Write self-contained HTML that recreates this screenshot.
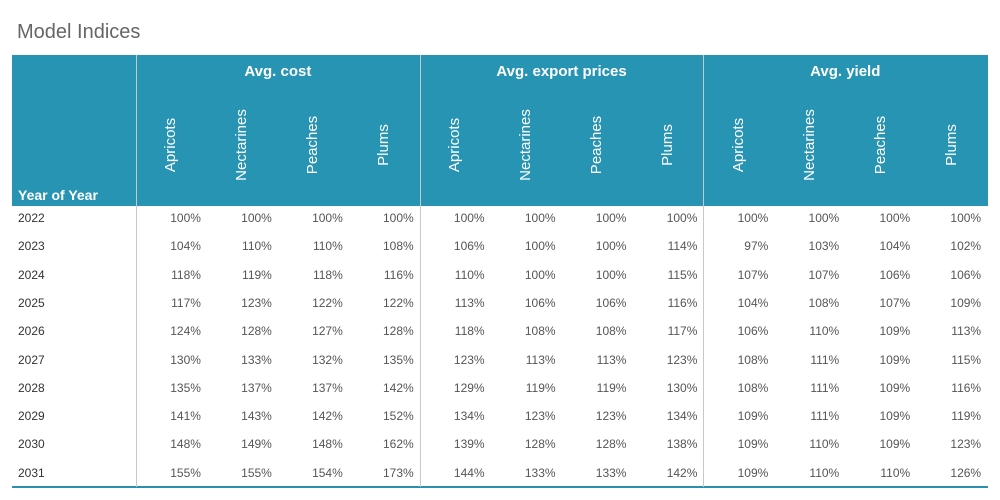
<!DOCTYPE html>
<html><head><meta charset="utf-8"><style>
body{margin:0;width:1000px;height:500px;background:#fff;font-family:"Liberation Sans",sans-serif;position:relative;overflow:hidden}
.a{position:absolute}
</style></head><body>
<div class="a" style="left:17px;top:21px;font-size:20px;color:#666">Model Indices</div>
<div class="a" style="left:12px;top:55px;width:976px;height:151px;background:#2794b3"></div>
<div class="a" style="left:18px;top:187px;font-size:14px;font-weight:bold;color:#fff">Year of Year</div>
<div class="a" style="left:12px;top:486px;width:976px;height:2px;background:#2b8fb0"></div>
<div id="t"></div>
<script>
const groups=["Avg. cost","Avg. export prices","Avg. yield"];
const fruits=["Apricots","Nectarines","Peaches","Plums"];
const years=["2022","2023","2024","2025","2026","2027","2028","2029","2030","2031"];
const cost=[[100,100,100,100],[104,110,110,108],[118,119,118,116],[117,123,122,122],[124,128,127,128],[130,133,132,135],[135,137,137,142],[141,143,142,152],[148,149,148,162],[155,155,154,173]];
const exportp=[[100,100,100,100],[106,100,100,114],[110,100,100,115],[113,106,106,116],[118,108,108,117],[123,113,113,123],[129,119,119,130],[134,123,123,134],[139,128,128,138],[144,133,133,142]];
const yieldv=[[100,100,100,100],[97,103,104,102],[107,107,106,106],[104,108,107,109],[106,110,109,113],[108,111,109,115],[108,111,109,116],[109,111,109,119],[109,110,109,123],[109,110,110,126]];
const data=[cost,exportp,yieldv];
const t=document.getElementById('t');
function el(s){const d=document.createElement('div');d.className='a';d.style.cssText=s;t.appendChild(d);return d;}
const g0=136,gw=283.7,cw=gw/4,r0=219,rh=28.3;
groups.forEach((g,gi)=>{
  const gx=g0+gi*gw;
  const s=el(`left:${gx}px;top:55px;width:1px;height:432px;background:#c8c8c8`);
  
  
  const h=el(`left:${gx}px;top:63px;width:${gw}px;text-align:center;font-size:15px;font-weight:bold;color:#fff`);
  h.textContent=g;
  
  
  fruits.forEach((f,fi)=>{
    const cx=gx+fi*cw+cw/2;
    const c=el(`left:${cx-60}px;top:136px;width:120px;height:18px;text-align:center;font-size:15px;color:#fff;line-height:18px;transform:rotate(-90deg)`);
    c.textContent=f;
    
    
    years.forEach((y,yi)=>{
      const v=el(`left:${gx+fi*cw}px;top:${r0+yi*rh-8}px;width:${cw-6}px;text-align:right;font-size:12px;color:#555`);
      v.textContent=data[gi][yi][fi]+'%';
      
      
    });
  });
});
years.forEach((y,yi)=>{
  const l=el(`left:18px;top:${r0+yi*rh-8}px;font-size:12px;color:#333`);
  l.textContent=y;
  
  
});
</script>
</body></html>
